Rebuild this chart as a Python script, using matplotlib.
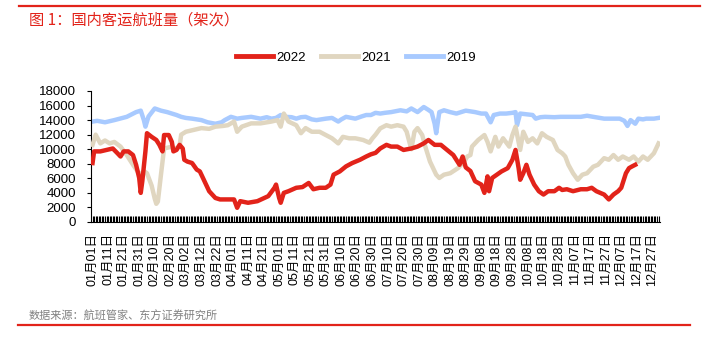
import matplotlib.pyplot as plt
from matplotlib.lines import Line2D

plt.rcParams['font.family'] = ['Liberation Sans', 'Noto Sans CJK SC', 'DejaVu Sans']

# 日序号 (0 = 01月01日) 与航班量(架次)
days_2022 = [0, 1, 5, 9, 13, 16, 18, 20, 23, 26, 28, 30, 31, 32, 34, 35, 38, 41, 43, 45, 46, 49, 51, 52,
             54, 56, 58, 59, 61, 64, 67, 69, 71, 73, 75, 79, 82, 87, 91, 93, 95, 100, 106, 113, 117, 118,
             120, 121, 123, 126, 131, 135, 139, 142, 146, 150, 153, 155, 159, 163, 167, 172, 176, 179,
             182, 185, 189, 192, 196, 200, 205, 209, 213, 216, 220, 224, 228, 232, 236, 238, 240, 243,
             246, 250, 252, 254, 255, 257, 260, 263, 267, 270, 272, 274, 275, 277, 279, 281, 284, 287,
             290, 293, 297, 300, 302, 305, 309, 314, 318, 321, 324, 329, 332, 335, 338, 340, 343, 345,
             347, 349]
flights_2022 = [8100, 9700, 9700, 9900, 10100, 9450, 9000, 9700, 9700, 9200, 7860, 6050, 4000, 5600,
                9700, 12200, 11700, 11270, 10600, 9700, 11950, 11950, 11000, 9700, 9900, 10600, 10100,
                8550, 8300, 8100, 7200, 6950, 6050, 5140, 4230, 3300, 3100, 3100, 3100, 1950, 2860,
                2640, 2860, 3550, 4700, 5140, 3300, 2640, 4000, 4230, 4700, 4800, 5360, 4500, 4700,
                4700, 5140, 6500, 6950, 7640, 8100, 8550, 9000, 9300, 9500, 10100, 10600, 10360, 10360,
                9900, 10100, 10360, 10800, 11270, 10600, 10600, 9900, 9200, 7860, 9000, 7500, 7000,
                5600, 5140, 4000, 6270, 4230, 6050, 6500, 6950, 7400, 8550, 9900, 7400, 5800, 6700,
                7860, 6500, 5140, 4230, 3770, 4230, 4230, 4700, 4400, 4500, 4230, 4500, 4500, 4700,
                4230, 3770, 3100, 3770, 4230, 4700, 6700, 7400, 7640, 7860]

days_2021 = [0, 2, 5, 8, 11, 14, 18, 22, 26, 29, 31, 33, 35, 38, 40, 41, 42, 44, 46, 50, 54, 56, 57, 60,
             64, 70, 75, 79, 84, 87, 91, 93, 96, 102, 108, 115, 119, 121, 123, 126, 131, 134, 137, 141,
             146, 150, 154, 158, 161, 165, 169, 174, 178, 180, 182, 185, 189, 192, 196, 200, 202, 205,
             207, 209, 212, 214, 217, 221, 223, 226, 230, 235, 239, 241, 243, 244, 248, 252, 254, 256,
             259, 261, 264, 268, 270, 272, 275, 277, 280, 283, 286, 289, 292, 296, 299, 302, 304, 306,
             309, 312, 315, 318, 322, 325, 329, 332, 335, 338, 341, 345, 348, 351, 354, 357, 361, 364]
flights_2021 = [10600, 12000, 10800, 11200, 10800, 11000, 10360, 9200, 7860, 6950, 6500, 7000, 6700,
                5000, 3200, 2500, 2800, 6500, 10100, 10300, 10100, 10500, 12000, 12400, 12600, 12900,
                12800, 13100, 13200, 13300, 13800, 12400, 13100, 13550, 13550, 13800, 14000, 13100,
                14900, 13800, 13300, 12200, 12900, 12400, 12400, 11950, 11500, 10800, 11700, 11500,
                11500, 11270, 10900, 11500, 12000, 12860, 13300, 13100, 13300, 13100, 12400, 10000,
                12400, 12900, 11950, 10360, 8300, 6500, 6050, 6500, 6700, 7400, 8300, 9000, 9200,
                10360, 11270, 11950, 11000, 9700, 11700, 10360, 11500, 10360, 11950, 13100, 9900,
                12400, 11000, 11500, 10800, 12200, 11700, 11270, 9900, 9450, 9000, 7860, 6700, 5800,
                6500, 6700, 7600, 7860, 8770, 8550, 9200, 8550, 9000, 8550, 9000, 8300, 9000, 8550,
                9450, 10800]

days_2019 = [0, 3, 8, 14, 22, 28, 31, 33, 34, 36, 40, 44, 48, 51, 54, 57, 60, 64, 70, 74, 79, 83, 85,
             89, 93, 96, 102, 108, 112, 115, 118, 121, 124, 128, 131, 134, 137, 141, 144, 150, 154, 158,
             160, 163, 169, 173, 176, 179, 182, 185, 188, 192, 198, 202, 205, 209, 213, 216, 218, 220,
             221, 223, 226, 230, 234, 237, 240, 246, 250, 253, 256, 258, 262, 266, 270, 272, 273, 275,
             279, 283, 285, 288, 291, 297, 301, 307, 314, 318, 322, 329, 335, 339, 342, 344, 346, 349,
             351, 354, 356, 361, 364]
flights_2019 = [13800, 13900, 13700, 14000, 14450, 15100, 15300, 14000, 13100, 14500, 15600, 15300,
                15100, 14900, 14700, 14450, 14300, 14200, 14000, 13700, 13500, 13700, 14000, 14450,
                14200, 14300, 14450, 14200, 14400, 14200, 14300, 14700, 14450, 14400, 14200, 14400,
                14450, 14100, 14000, 14200, 14300, 13800, 14100, 14450, 14200, 14500, 14700, 14700,
                15000, 14900, 15000, 15100, 15350, 15200, 15600, 15100, 15800, 15400, 15100, 13500,
                12200, 15100, 15350, 15100, 14900, 15100, 15300, 15100, 14900, 14900, 13700, 14700,
                14900, 14900, 15000, 15100, 13300, 14900, 14800, 14700, 14200, 14400, 14450, 14400,
                14450, 14450, 14450, 14600, 14450, 14200, 14200, 14200, 13900, 13200, 14000, 13500,
                14200, 14100, 14200, 14200, 14300]

tick_days = list(range(0, 365, 10))
tick_labels = ['01月01日', '01月11日', '01月21日', '01月31日', '02月10日', '02月20日', '03月02日',
               '03月12日', '03月22日', '04月01日', '04月11日', '04月21日', '05月01日', '05月11日',
               '05月21日', '05月31日', '06月10日', '06月20日', '06月30日', '07月10日', '07月20日',
               '07月30日', '08月09日', '08月19日', '08月29日', '09月08日', '09月18日', '09月28日',
               '10月08日', '10月18日', '10月28日', '11月07日', '11月17日', '11月27日', '12月07日',
               '12月17日', '12月27日']

RED = '#E2231A'
BEIGE = '#E0D6C0'
BLUE = '#A8CAFF'

fig = plt.figure(figsize=(7.07, 3.43), dpi=100)
ax = fig.add_axes([0.1287, 0.3528, 0.805, 0.3819])

ax.plot(days_2019, flights_2019, color=BLUE, lw=3.2, label='2019', zorder=2)
ax.plot(days_2021, flights_2021, color=BEIGE, lw=3.2, label='2021', zorder=3)
ax.plot(days_2022, flights_2022, color=RED, lw=3.2, label='2022', zorder=4)

ax.set_xlim(-1, 365)
ax.set_ylim(0, 18000)
ax.set_yticks(range(0, 18001, 2000))
ax.tick_params(axis='y', direction='out', length=3, width=0.8, labelsize=9.5, pad=8)
ax.set_xticks(tick_days)
ax.set_xticklabels(tick_labels, rotation=90, fontsize=9)
ax.set_xticks(range(0, 365), minor=True)
ax.tick_params(axis='x', which='both', direction='in', length=4, width=0.8, pad=8)

for side in ['top', 'right']:
    ax.spines[side].set_visible(False)
for side in ['left', 'bottom']:
    ax.spines[side].set_linewidth(0.8)

handles, labels = ax.get_legend_handles_labels()
order = [2, 1, 0]
leg = fig.legend([handles[i] for i in order], [labels[i] for i in order], loc='center',
                 bbox_to_anchor=(356 / 707, 1 - 58 / 343), ncol=3, frameon=False, fontsize=9.5,
                 handlelength=2.8, handletextpad=0.3, columnspacing=1.1)
for line in leg.get_lines():
    line.set_linewidth(3.5)

fig.text(29 / 707, 1 - 20 / 343, '图 1：国内客运航班量（架次）', color=RED, fontsize=11,
         va='center', ha='left', family=['Noto Sans CJK SC', 'DejaVu Sans'])
fig.text(29 / 707, 1 - 316 / 343, '数据来源：航班管家、东方证券研究所', color='#808080', fontsize=8,
         va='center', ha='left', family=['Noto Sans CJK SC', 'DejaVu Sans'])

fig.add_artist(Line2D([19 / 707, 700 / 707], [1 - 6 / 343] * 2, color=RED, lw=1.6))
fig.add_artist(Line2D([18 / 707, 690 / 707], [1 - 325 / 343] * 2, color=RED, lw=1.6))

fig.savefig('out.png', dpi=100)
